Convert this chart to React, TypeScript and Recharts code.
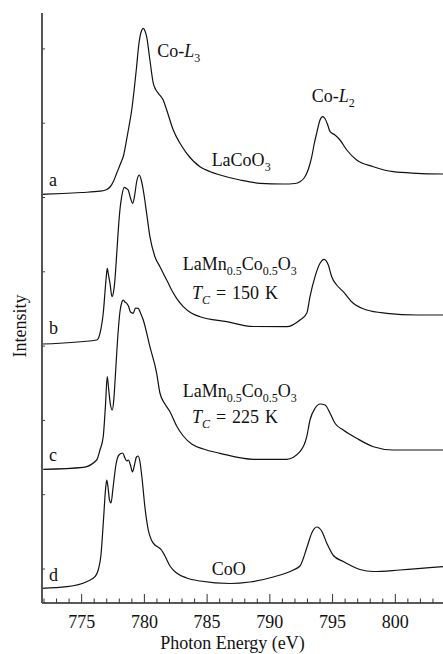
import React from 'react';
import { LineChart, Line, XAxis, YAxis, ReferenceDot, Label } from 'recharts';

// Photon energy (eV) and stacked intensity (arb. units)
const spectrumA: [number, number][] = [
  [771.84, 408.7], [773.5, 409.5], [775.0, 410.5], [776.46, 411.8], [777.0, 413.5],
  [777.26, 416], [777.55, 422], [777.79, 429.7], [778.11, 439.7], [778.35, 448],
  [778.53, 459.7], [778.75, 475], [778.99, 493], [779.2, 515], [779.38, 536.3],
  [779.55, 558], [779.65, 566.3], [779.78, 572.5], [779.91, 574.7], [780.05, 572],
  [780.18, 566.3], [780.44, 543], [780.71, 519.7], [780.9, 513.5], [781.11, 509.7],
  [781.5, 503], [781.78, 493], [782.3, 473], [782.84, 459.7], [783.37, 449.7],
  [784.43, 436.3], [785.2, 431.5], [786.03, 428], [787.62, 423], [789.21, 419.7],
  [791.07, 419], [792.0, 419.5], [792.4, 421.3], [792.7, 424.5], [792.94, 429.7],
  [793.15, 437], [793.34, 446.3], [793.55, 460], [793.73, 469.7], [794.0, 483],
  [794.21, 486.3], [794.4, 484.2], [794.6, 478.5], [794.8, 471.3], [795.19, 468],
  [795.59, 463], [796.13, 453], [796.92, 443], [798.25, 436.3], [799.84, 431.3],
  [801.71, 429.7], [803.9, 429],
];

const spectrumB: [number, number][] = [
  [771.92, 259], [776.2, 263], [776.46, 269.7], [776.72, 289.7], [776.94, 323],
  [777.04, 334.7], [777.14, 328], [777.26, 319.7], [777.42, 306.3], [777.54, 311],
  [777.65, 323], [777.79, 348], [777.92, 373], [778.05, 393], [778.19, 406.3],
  [778.4, 415.7], [778.57, 414.5], [778.71, 413], [778.89, 405], [779.07, 399.7],
  [779.23, 408], [779.38, 421], [779.59, 428], [779.75, 423], [779.91, 413],
  [780.18, 389.7], [780.44, 366.3], [780.84, 346.3], [781.24, 336.3], [781.5, 329.7],
  [781.78, 323], [782.17, 313], [782.57, 304.7], [783.1, 296.3], [783.77, 289.7],
  [784.43, 286.3], [786.56, 281.3], [788.68, 276.5], [791.34, 276.3], [792.4, 283],
  [792.94, 289.7], [793.2, 306.3], [793.6, 326.3], [794.0, 339.7], [794.32, 343.7],
  [794.66, 338], [794.93, 326.3], [795.33, 318], [795.85, 311.3], [796.65, 299.7],
  [797.72, 293], [799.31, 289.7], [801.71, 288], [803.8, 288],
];

const spectrumC: [number, number][] = [
  [771.94, 133.7], [775.13, 135.7], [776.2, 143], [776.46, 153], [776.72, 166.3],
  [776.9, 198], [777.04, 226.3], [777.16, 213], [777.3, 198], [777.44, 193],
  [777.56, 203], [777.69, 228], [777.89, 268], [778.05, 291], [778.21, 301],
  [778.32, 303], [778.45, 301], [778.59, 299.7], [778.73, 297], [778.89, 291],
  [779.11, 289.7], [779.29, 295], [779.51, 294.7], [779.69, 290], [779.91, 283],
  [780.44, 256.3], [780.98, 229.7], [781.24, 210], [781.64, 199], [782.05, 191],
  [782.57, 177], [783.1, 167], [783.77, 159], [784.7, 154], [786.03, 149.7],
  [788.68, 143.7], [791.34, 143.7], [792.4, 151.3], [792.94, 166.3], [793.2, 183],
  [793.6, 194.7], [794.0, 199], [794.4, 198], [794.8, 189.7], [795.19, 179.7],
  [795.85, 173], [796.92, 164.7], [798.25, 156.3], [799.84, 153], [803.8, 153],
];

const spectrumD: [number, number][] = [
  [771.84, 14.7], [773.8, 16.3], [775.4, 21.3], [776.06, 26.3], [776.32, 33],
  [776.54, 48], [776.74, 83], [776.9, 113], [777.0, 123], [777.1, 116],
  [777.22, 103], [777.34, 100], [777.5, 115], [777.73, 138], [777.97, 148],
  [778.27, 150], [778.45, 145], [778.61, 142], [778.73, 143], [778.89, 138],
  [779.05, 131], [779.21, 138], [779.37, 146], [779.51, 147], [779.65, 141],
  [779.81, 125], [780.05, 95], [780.31, 73], [780.56, 63], [780.84, 58],
  [781.08, 56], [781.36, 53], [781.64, 47], [782.04, 37], [782.57, 30],
  [783.37, 25], [784.43, 22], [786.83, 19.5], [788.42, 21], [790.27, 26],
  [791.87, 33], [792.4, 37], [792.94, 55], [793.34, 70], [793.73, 76],
  [794.13, 72], [794.53, 60], [795.06, 47.5], [795.85, 41.5], [797.18, 33.5],
  [798.25, 31.5], [800.37, 33], [803.8, 36.3],
];

const energyTicks = [
  772, 773, 774, 775, 776, 777, 778, 779, 780, 781, 782, 783, 784, 785, 786, 787,
  788, 789, 790, 791, 792, 793, 794, 795, 796, 797, 798, 799, 800, 801, 802, 803,
];
const intensityTicks = [34, 108.3, 182.6, 256.9, 331.2, 405.5, 479.8, 554.1];

const toRows = (pts: [number, number][]) => pts.map(([e, v]) => ({ e, v }));
const series = [spectrumA, spectrumB, spectrumC, spectrumD].map(toRows);

const FONT = "'Liberation Serif', 'Times New Roman', 'DejaVu Serif', serif";
const INK = '#111';
const FS = 18;
const SUB = 12;
const textStyle = { fontFamily: FONT };

const BottomTick = (props: any) => {
  const { x, y, payload } = props;
  const major = payload.value % 5 === 0;
  return (
    <g>
      <line x1={x} x2={x} y1={y} y2={y - (major ? 9 : 4.5)} stroke="#333" strokeWidth={1} />
      {major && (
        <text x={x} y={y + 25} textAnchor="middle" style={textStyle} fontFamily={FONT} fontSize={FS} fill={INK}>
          {payload.value}
        </text>
      )}
    </g>
  );
};

const TopTick = (props: any) => {
  const { x, y, payload } = props;
  const major = payload.value % 5 === 0;
  return <line x1={x} x2={x} y1={y} y2={y + (major ? 9 : 4.5)} stroke="#333" strokeWidth={1} />;
};

const LeftTick = (props: any) => {
  const { x, y } = props;
  return <line x1={x} x2={x + 3} y1={y} y2={y} stroke="#444" strokeWidth={1} />;
};

const IntensityLabel = (props: any) => {
  const vb = props.viewBox || { x: 0, y: 13, width: 42, height: 590 };
  const cx = vb.x + 20;
  const cy = vb.y + vb.height / 2 + 18;
  return (
    <text
      x={cx}
      y={cy}
      transform={`rotate(-90 ${cx} ${cy})`}
      textAnchor="middle"
      dominantBaseline="central"
      style={textStyle}
      fontFamily={FONT}
      fontSize={FS}
      fill={INK}
    >
      Intensity
    </text>
  );
};

const EnergyLabel = (props: any) => {
  const vb = props.viewBox || { x: 42, y: 603, width: 401, height: 51 };
  return (
    <text x={vb.x + vb.width / 2 - 10} y={vb.y + 46} textAnchor="middle" style={textStyle} fontFamily={FONT} fontSize={FS} fill={INK}>
      Photon Energy (eV)
    </text>
  );
};

const txt = (cx: number, cy: number, content: React.ReactNode) => (
  <text x={cx} y={cy} style={textStyle} fontFamily={FONT} fontSize={FS} fill={INK}>
    {content}
  </text>
);

const Formula = () => (
  <>
    <tspan>LaMn</tspan>
    <tspan fontSize={SUB} dy={5}>0.5</tspan>
    <tspan dy={-5}>Co</tspan>
    <tspan fontSize={SUB} dy={5}>0.5</tspan>
    <tspan dy={-5}>O</tspan>
    <tspan fontSize={SUB} dy={5}>3</tspan>
  </>
);

const Tc = ({ value }: { value: string }) => (
  <>
    <tspan fontStyle="italic">T</tspan>
    <tspan fontStyle="italic" fontSize={SUB} dy={5}>C</tspan>
    <tspan dy={-5} style={{ wordSpacing: '1.5px' }}>{` = ${value} K`}</tspan>
  </>
);

type Ann = { e: number; v: number; node: React.ReactNode };
const annotations: Ann[] = [
  { e: 772.39, v: 417, node: 'a' },
  { e: 772.39, v: 269, node: 'b' },
  { e: 772.39, v: 142, node: 'c' },
  { e: 772.39, v: 22, node: 'd' },
  {
    e: 781.02,
    v: 546,
    node: (
      <>
        <tspan>Co-</tspan>
        <tspan fontStyle="italic">L</tspan>
        <tspan fontSize={SUB} dy={5}>3</tspan>
      </>
    ),
  },
  {
    e: 793.34,
    v: 501.3,
    node: (
      <>
        <tspan>Co-</tspan>
        <tspan fontStyle="italic">L</tspan>
        <tspan fontSize={SUB} dy={5}>2</tspan>
      </>
    ),
  },
  {
    e: 785.36,
    v: 437,
    node: (
      <>
        <tspan>LaCoO</tspan>
        <tspan fontSize={SUB} dy={5}>3</tspan>
      </>
    ),
  },
  { e: 783.05, v: 333, node: <Formula /> },
  { e: 783.79, v: 304, node: <Tc value="150" /> },
  { e: 783.05, v: 206, node: <Formula /> },
  { e: 783.79, v: 180, node: <Tc value="225" /> },
  { e: 785.36, v: 28, node: 'CoO' },
];

export default function App() {
  return (
    <div style={{ position: 'absolute', left: 0, top: 0, width: 443, height: 654, background: '#fff' }}>
      <LineChart width={443} height={654} margin={{ top: 13, right: 0, bottom: 0, left: 0 }}>
        <XAxis
          xAxisId="bottom"
          type="number"
          dataKey="e"
          domain={[771.84, 803.8]}
          allowDataOverflow
          ticks={energyTicks}
          interval={0}
          height={51}
          tickSize={0}
          tickMargin={0}
          tickLine={false}
          axisLine={{ stroke: '#222', strokeWidth: 1.3 }}
          tick={<BottomTick />}
        >
          <Label content={<EnergyLabel />} />
        </XAxis>
        <XAxis
          xAxisId="top"
          orientation="top"
          type="number"
          dataKey="e"
          domain={[771.84, 803.8]}
          allowDataOverflow
          ticks={energyTicks}
          interval={0}
          height={0}
          tickSize={0}
          tickMargin={0}
          tickLine={false}
          axisLine={{ stroke: '#222', strokeWidth: 1.3 }}
          tick={<TopTick />}
        />
        <YAxis
          yAxisId="left"
          type="number"
          domain={[0, 590]}
          allowDataOverflow
          ticks={intensityTicks}
          interval={0}
          width={42}
          tickSize={0}
          tickMargin={0}
          tickLine={false}
          axisLine={{ stroke: '#555', strokeWidth: 2 }}
          tick={<LeftTick />}
        >
          <Label content={<IntensityLabel />} />
        </YAxis>
        {series.map((rows, i) => (
          <Line
            key={i}
            data={rows}
            dataKey="v"
            xAxisId="bottom"
            yAxisId="left"
            type="monotone"
            dot={false}
            stroke={INK}
            strokeWidth={1.2}
            isAnimationActive={false}
          />
        ))}
        {annotations.map((a, i) => (
          <ReferenceDot
            key={`ann-${i}`}
            x={a.e}
            y={a.v}
            r={0}
            xAxisId="bottom"
            yAxisId="left"
            ifOverflow="visible"
            shape={(p: any) => txt(p.cx, p.cy, a.node)}
          />
        ))}
      </LineChart>
    </div>
  );
}
